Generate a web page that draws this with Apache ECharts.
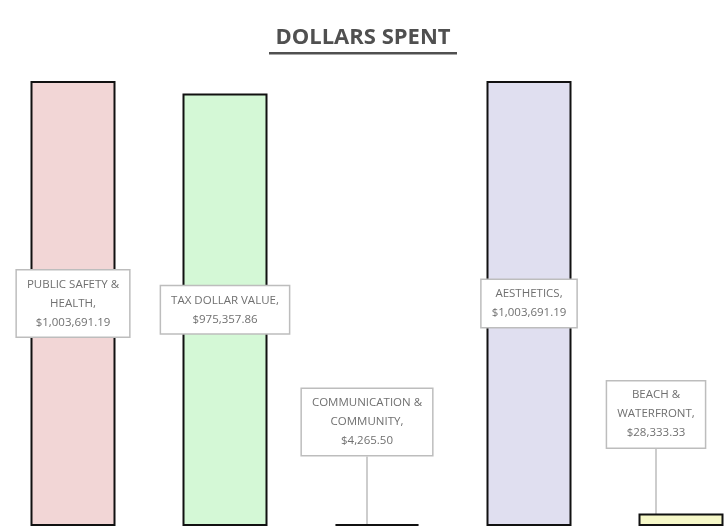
<!DOCTYPE html>
<html><head><meta charset="utf-8">
<script src="https://cdn.jsdelivr.net/npm/echarts@6/dist/echarts.min.js"></script>
<style>html,body{margin:0;padding:0;background:#fff}#c{width:726px;height:527px}</style>
</head><body><div id="c"></div>
<script>
const categories = ['PUBLIC SAFETY &\nHEALTH', 'TAX DOLLAR VALUE', 'COMMUNICATION &\nCOMMUNITY', 'AESTHETICS', 'BEACH &\nWATERFRONT'];
const values = [1003691.19, 975357.86, 4265.50, 1003691.19, 28333.33];
const colors = ['#f2d6d6', '#d4f8d6', '#1f3f8f', '#e0dff0', '#f6f8c8'];

function fmt(v){ return '$' + v.toLocaleString('en-US',{minimumFractionDigits:2, maximumFractionDigits:2}); }

const labelBase = {
  show: true,
  formatter: p => p.name + ',\n' + fmt(p.value),
  color: '#707070',
  fontFamily: 'Open Sans',
  fontSize: 11.5,
  lineHeight: 19,
  backgroundColor: '#ffffff',
  borderColor: '#bdbdbd',
  borderWidth: 1.5,
  padding: [4, 10, 5, 10],
  align: 'center'
};

const data = values.map((v, i) => {
  const small = v < 100000;
  const item = {
    value: v,
    itemStyle: { color: colors[i], borderColor: '#111', borderWidth: 2 },
    label: Object.assign({}, labelBase, { position: small ? 'top' : 'inside' })
  };
  if (small) {
    item.labelLine = { show: true, lineStyle: { color: '#bdbdbd', width: 1.5 } };
  }
  return item;
});

const chart = echarts.init(document.getElementById('c'));
chart.setOption({
  animation: false,
  title: {
    text: 'DOLLARS SPENT',
    left: 'center',
    top: 22,
    textStyle: { fontFamily: 'Open Sans', fontWeight: 'bold', fontSize: 22, color: '#505050' }
  },
  graphic: [{
    type: 'rect', left: 'center', top: 52,
    shape: { width: 188, height: 2.5 },
    style: { fill: '#505050' }
  }],
  grid: { left: -3, width: 760, top: 81, bottom: 1, outerBoundsMode: 'none', containLabel: false },
  xAxis: { type: 'category', data: categories, show: false },
  yAxis: { type: 'value', min: 0, max: 1003691.19, show: false },
  series: [{
    type: 'bar',
    barWidth: 85,
    data: data,
    labelLayout: function (params) {
      const i = params.dataIndex;
      if (i === 2) return { dx: -10, dy: -64 };
      if (i === 4) return { dx: -25, dy: -61 };
      return {};
    },
    labelLine: { show: false }
  }]
});
</script></body></html>
